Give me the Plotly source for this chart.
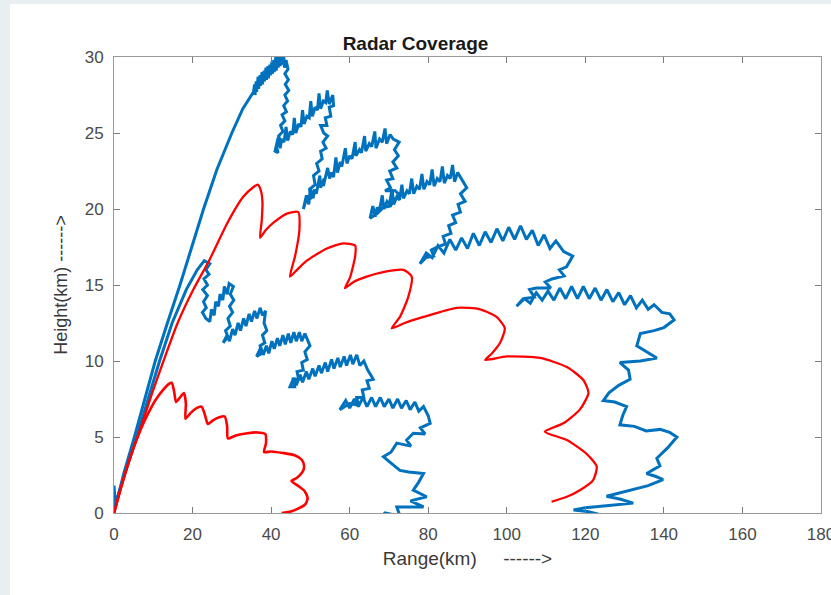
import plotly.graph_objects as go

# ---------------- data (km) ----------------
# outer blue (noisy) coverage contour: (range, height)
blue_outer = [
    (0, 0), (2.5, 2.6), (5.2, 5.0), (7.8, 7.5), (10.5, 10.0), (13.6, 12.5), (16.8, 15.0),
    (19.8, 17.5), (22.8, 20.0), (26.2, 22.6), (30.0, 25.0), (32.8, 26.6), (35.5, 27.7),
    (35.8, 28.2), (35.9, 27.5), (36.2, 28.4), (36.3, 27.7), (36.7, 28.7), (36.8, 27.9),
    (37.2, 28.8), (37.3, 28.1), (37.7, 29.0), (37.8, 28.2), (38.2, 29.1), (38.3, 28.4),
    (38.7, 29.3), (38.8, 28.5), (39.2, 29.4), (39.3, 28.6), (39.7, 29.5), (39.8, 28.8),
    (40.2, 29.7), (40.3, 28.9), (40.7, 29.8), (40.8, 29.0), (41.2, 30.0), (41.3, 29.1),
    (41.7, 30.1), (41.8, 29.3), (42.2, 30.2), (42.3, 29.4), (42.7, 30.2), (42.8, 29.5),
    (43.2, 30.1), (43.4, 29.3), (43.8, 29.8),
    (44.3, 29.2), (43.5, 28.9), (44.4, 28.5), (43.6, 28.2), (44.5, 27.8), (43.5, 27.5),
    (44.2, 27.1), (43.2, 26.8), (43.9, 26.4), (42.8, 26.2), (43.5, 25.8), (42.4, 25.5),
    (43.0, 25.1), (41.9, 24.8), (42.5, 24.4), (41.3, 24.1), (41.8, 23.7), (41.0, 23.8),
    (41.8, 24.7), (42.3, 24.0), (42.7, 24.6), (43.3, 24.4), (43.8, 25.4), (44.2, 24.5),
    (44.9, 25.1), (45.5, 24.9), (45.9, 26.0), (46.3, 25.0), (47.0, 25.6), (47.6, 25.4),
    (48.0, 26.5), (48.4, 25.6), (49.1, 26.1), (49.7, 26.0), (50.1, 27.1), (50.5, 26.1),
    (51.2, 26.7), (51.8, 26.5), (52.2, 27.6), (52.6, 26.6), (53.3, 27.1), (53.9, 27.0),
    (54.3, 27.8), (54.8, 26.9), (55.7, 27.5),
    (55.9, 26.8), (54.8, 26.7), (55.2, 26.1), (53.8, 26.0), (54.2, 25.5), (52.6, 25.5),
    (53.4, 25.0), (54.4, 24.8), (53.2, 24.4), (54.0, 24.0), (52.6, 23.8), (53.0, 23.3),
    (51.6, 23.0), (52.2, 22.5), (50.8, 22.2), (51.2, 21.6), (49.8, 21.3), (50.0, 20.7),
    (48.8, 20.5), (48.2, 20.0),
    (49.0, 20.9), (49.6, 20.3), (50.0, 21.4), (50.7, 20.7), (51.1, 21.3), (51.5, 21.0),
    (52.4, 22.2), (52.6, 21.4), (53.5, 22.0), (53.3, 21.5), (54.4, 22.7), (54.9, 22.0),
    (55.3, 22.4), (55.9, 22.1), (56.5, 23.4), (56.9, 22.4), (57.6, 23.1), (58.0, 22.8),
    (58.9, 24.0), (59.3, 23.0), (60.0, 23.5), (60.6, 23.3), (61.4, 24.4), (61.6, 23.5),
    (62.5, 23.9), (63.0, 23.7), (63.8, 24.8), (64.1, 23.8), (65.0, 24.3), (65.6, 24.1),
    (66.4, 25.1), (66.7, 24.0), (67.6, 24.6), (68.3, 24.4), (69.0, 25.3), (69.4, 24.3),
    (70.3, 24.9), (71.1, 24.6),
    (72.6, 24.4), (71.4, 23.9), (72.4, 23.5), (71.0, 23.1), (72.0, 22.7), (70.2, 22.5),
    (71.0, 22.0), (69.4, 21.9), (70.4, 21.4), (69.0, 21.2), (71.6, 21.2), (72.8, 20.9),
    (71.2, 20.6), (70.4, 20.2), (68.6, 20.1), (67.0, 19.7), (65.2, 19.4),
    (65.9, 20.2), (66.5, 19.5), (67.0, 20.1), (67.6, 19.9), (68.3, 20.9), (68.7, 20.0),
    (69.5, 20.5), (70.1, 20.3), (70.8, 21.3), (71.2, 20.3), (72.0, 20.8), (72.7, 20.6),
    (73.3, 21.6), (73.7, 20.7), (74.6, 21.2), (75.2, 21.0), (75.8, 22.0), (76.3, 21.0),
    (77.1, 21.5), (77.8, 21.3), (78.4, 22.3), (78.9, 21.3), (79.7, 21.8), (80.4, 21.6),
    (81.0, 22.6), (81.5, 21.5), (82.3, 22.0), (83.0, 21.8), (83.6, 22.8), (84.1, 21.7),
    (84.9, 22.2), (85.6, 22.0), (86.2, 22.9), (86.7, 21.8), (87.5, 22.4), (88.4, 22.0),
    (89.8, 21.4), (88.2, 21.0), (89.4, 20.5), (87.6, 20.3), (88.2, 19.8), (86.2, 19.6),
    (87.0, 19.1), (85.2, 18.9), (85.8, 18.4), (83.8, 18.2), (84.4, 17.7), (82.4, 17.5),
    (80.8, 17.3), (81.4, 16.9), (79.4, 16.8), (77.9, 16.4),
    (79.5, 17.1), (81.0, 16.8), (82.5, 17.6), (84.0, 17.1), (85.5, 18.0), (87.0, 17.3),
    (88.5, 18.1), (90.0, 17.4), (91.5, 18.4), (93.0, 17.6), (94.5, 18.5), (96.0, 17.8),
    (97.5, 18.7), (99.0, 17.9), (100.5, 18.8), (102.0, 18.0), (103.5, 18.9), (105.0, 18.0),
    (106.5, 18.6), (108.0, 17.6), (109.5, 18.3), (111.0, 17.4), (112.5, 17.9), (114.5, 17.2),
    (116.8, 16.9),
    (115.2, 16.2), (113.4, 16.0), (114.6, 15.6), (111.5, 15.4), (109.8, 15.2), (111.2, 14.8),
    (107.5, 14.8), (105.8, 14.7), (107.0, 14.2), (104.2, 14.1), (102.5, 13.6),
    (104.5, 14.1), (106.0, 13.8), (107.5, 14.5), (109.0, 14.0), (110.5, 14.6), (112.0, 14.0),
    (113.5, 14.8), (115.0, 14.1), (116.5, 14.9), (118.0, 14.1), (119.5, 14.9), (121.0, 14.1),
    (122.5, 14.8), (124.0, 14.0), (125.5, 14.7), (127.0, 13.9), (128.5, 14.5), (130.0, 13.7),
    (131.5, 14.3), (133.0, 13.5), (134.5, 14.0), (136.0, 13.4), (137.5, 13.7), (139.5, 13.2),
    (141.5, 13.1), (142.6, 12.7),
    (140.0, 12.2), (137.5, 12.0), (134.0, 11.8), (133.1, 11.0), (135.5, 10.6), (138.2, 10.2),
    (134.0, 10.0), (128.8, 9.9), (131.0, 9.4), (131.4, 8.8), (128.5, 8.4), (126.0, 7.9),
    (124.6, 7.4), (127.5, 7.3), (130.5, 7.0), (129.5, 6.4), (128.8, 5.8), (132.5, 5.7),
    (135.5, 5.4), (139.0, 5.5), (141.5, 5.3), (143.3, 5.0), (141.0, 4.3), (138.2, 3.6),
    (139.0, 3.1), (135.6, 2.6), (138.0, 2.4), (139.8, 2.2), (136.0, 1.8), (131.5, 1.5),
    (127.5, 1.2), (125.4, 1.1), (129.0, 0.9), (132.2, 0.65), (126.0, 0.5), (120.0, 0.35),
    (117.0, 0.2), (120.5, 0.1), (123.7, -0.1),
]

# inner blue (noisy) coverage contour
blue_inner = [
    (0, 0), (0, 1.8), (0.3, 0.6), (2.8, 2.6), (5.8, 5.0), (8.7, 7.5), (11.6, 10.0),
    (14.8, 12.5), (18.4, 14.7), (21.2, 16.0), (23.0, 16.6), (24.4, 16.4),
    (23.4, 16.0), (24.2, 15.7), (22.9, 15.4), (23.8, 15.0), (22.6, 14.7), (23.8, 14.3),
    (22.8, 13.9), (23.5, 13.5), (22.5, 13.2), (23.4, 12.8), (24.4, 12.6), (24.8, 13.4),
    (25.5, 13.0), (25.9, 13.9), (26.6, 13.6), (27.0, 14.4), (27.7, 14.0), (28.1, 14.9),
    (28.8, 14.4), (29.3, 15.1), (30.4, 14.9), (29.6, 14.4), (30.5, 14.0), (29.4, 13.6),
    (30.2, 13.2), (29.0, 12.8), (29.6, 12.3), (28.4, 12.0), (29.0, 11.6), (27.8, 11.2),
    (28.8, 11.7), (29.4, 11.3), (30.2, 12.1), (30.8, 11.7), (31.6, 12.5), (32.2, 12.0),
    (33.0, 12.8), (33.6, 12.3), (34.4, 13.1), (35.0, 12.6), (35.8, 13.3), (36.4, 12.8),
    (37.2, 13.5), (37.8, 13.0), (38.6, 13.3), (38.2, 12.5), (38.9, 12.0), (37.8, 11.7),
    (38.4, 11.2), (37.2, 11.0), (37.6, 10.5), (36.3, 10.3), (37.4, 10.9), (38.0, 10.4),
    (38.8, 11.0), (39.4, 10.5), (40.2, 11.3), (40.8, 10.8), (41.6, 11.5), (42.2, 11.0),
    (43.0, 11.7), (43.6, 11.1), (44.4, 11.8), (45.0, 11.2), (45.8, 11.9), (46.4, 11.3),
    (47.2, 11.9), (47.8, 11.3), (48.6, 11.8), (49.9, 11.0), (48.6, 10.6), (49.2, 10.1),
    (47.8, 9.9), (48.2, 9.4), (46.6, 9.3), (47.0, 8.8), (45.6, 8.8), (46.0, 8.3),
    (44.8, 8.3),
    (45.8, 8.9), (46.4, 8.4), (47.4, 9.1), (48.0, 8.6), (49.0, 9.3), (49.6, 8.8),
    (50.6, 9.5), (51.2, 9.0), (52.2, 9.7), (52.8, 9.2), (53.8, 9.9), (54.4, 9.3),
    (55.4, 10.1), (56.0, 9.5), (57.0, 10.2), (57.6, 9.6), (58.6, 10.3), (59.2, 9.7),
    (60.2, 10.4), (60.8, 9.8), (61.8, 10.4), (62.6, 9.7), (63.6, 10.0), (64.6, 9.4),
    (66.0, 8.8), (64.4, 8.7), (65.0, 8.2), (63.2, 8.1), (63.6, 7.6), (61.8, 7.6),
    (62.2, 7.1), (60.0, 7.2), (57.5, 6.8),
    (59.0, 7.4), (60.0, 6.9), (61.2, 7.5), (62.2, 7.0), (63.4, 7.6), (64.4, 7.0),
    (65.6, 7.6), (66.6, 7.0), (67.8, 7.6), (68.8, 7.0), (70.0, 7.5), (71.0, 6.9),
    (72.2, 7.5), (73.2, 6.9), (74.4, 7.4), (75.4, 6.8), (76.6, 7.3), (77.6, 6.7),
    (78.8, 7.0), (80.0, 6.4), (80.5, 5.9),
    (78.0, 5.6), (79.2, 5.2), (76.2, 5.25), (74.5, 4.8), (75.6, 4.4), (72.0, 4.6),
    (70.5, 4.0), (68.6, 3.7), (70.0, 3.4), (72.8, 2.8), (75.0, 2.7), (78.8, 2.6),
    (77.5, 2.0), (76.2, 1.5), (79.6, 1.07), (75.5, 0.8), (78.8, 0.4), (72.0, 0.4),
    (72.8, -0.2), (69.0, 0.0), (67.0, -0.5),
]

# outer red (smooth) coverage contour
red_outer = [
    (0, 0), (1.5, 1.4), (3.2, 2.9), (5.0, 4.3), (6.8, 5.6), (9.6, 7.8), (12.6, 10.0),
    (16.2, 12.5), (20.2, 14.7), (24.4, 16.7), (28.7, 19.0), (32.9, 20.8), (35.3, 21.4),
    (36.6, 21.6), (37.4, 21.2), (37.8, 20.4), (37.6, 19.2), (37.2, 18.1),
    (38.6, 18.6), (40.6, 19.1), (44.0, 19.7), (46.9, 19.8), (47.2, 18.6), (46.1, 16.9),
    (44.8, 15.55),
    (46.6, 16.0), (49.1, 16.6), (54.2, 17.4), (58.4, 17.74), (61.4, 17.6), (61.4, 16.9),
    (60.1, 15.5), (58.8, 14.8),
    (61.0, 15.2), (64.3, 15.55), (69.4, 15.9), (73.7, 16.0), (75.8, 15.55), (74.9, 14.2),
    (72.8, 12.9), (70.7, 12.15),
    (74.0, 12.5), (78.8, 12.9), (87.3, 13.5), (93.2, 13.4), (97.4, 12.9), (99.5, 12.15),
    (98.3, 11.2), (96.2, 10.5), (94.5, 10.07),
    (100.0, 10.3), (108.5, 10.2), (115.3, 9.6), (119.5, 8.75), (120.8, 7.9), (118.6, 6.8),
    (114.4, 5.9), (109.7, 5.35),
    (115.3, 4.8), (120.3, 3.9), (122.9, 3.05), (122.0, 2.17), (118.6, 1.5), (115.3, 1.07),
    (111.4, 0.74),
]

# inner red (smooth) coverage contour
red_inner = [
    (0, 0), (1.5, 1.4), (3.2, 2.9), (5.0, 4.3), (6.8, 5.5), (8.6, 6.5), (10.5, 7.4),
    (12.5, 8.1), (14.0, 8.5), (14.7, 8.57), (15.3, 8.0), (15.8, 7.3),
    (16.8, 7.6), (17.8, 7.9), (18.3, 7.2), (18.2, 6.2),
    (19.6, 6.6), (21.0, 6.9), (22.3, 7.0), (23.1, 6.5), (23.9, 5.85),
    (25.2, 6.1), (26.8, 6.3), (28.2, 6.35), (28.8, 5.7), (29.0, 4.9),
    (31.0, 5.1), (34.0, 5.25), (36.5, 5.3), (38.5, 5.2), (38.7, 4.6), (38.2, 4.0),
    (40.0, 4.05), (43.0, 3.95), (46.0, 3.8), (47.8, 3.5), (48.4, 3.1), (48.0, 2.7),
    (46.5, 2.3), (45.2, 2.1),
    (46.8, 1.8), (48.5, 1.45), (49.3, 1.0), (48.8, 0.6), (47.0, 0.3), (45.0, 0.1), (42.7, 0.0),
]

x_ticks = [0, 20, 40, 60, 80, 100, 120, 140, 160, 180]
y_ticks = [0, 5, 10, 15, 20, 25, 30]

BLUE = "#0072BD"
RED = "#FF0000"
FONT = "Liberation Sans, Arial, sans-serif"

fig = go.Figure()
for series, color, w, shape in [(blue_outer, BLUE, 3.0, "linear"), (blue_inner, BLUE, 3.0, "linear"),
                                (red_outer, RED, 2.3, "spline"), (red_inner, RED, 2.6, "spline")]:
    xs = [p[0] for p in series]
    ys = [p[1] for p in series]
    fig.add_trace(go.Scatter(x=xs, y=ys, mode="lines",
                             line=dict(color=color, width=w, shape=shape, smoothing=0.6),
                             showlegend=False, hoverinfo="skip"))

NB = "\u00a0"
axis_common = dict(showline=True, linecolor="#9a9a9a", linewidth=1, mirror="ticks",
                   ticks="inside", ticklen=6, tickcolor="#7a7a7a", showgrid=False,
                   zeroline=False, automargin=False,
                   tickfont=dict(family=FONT, size=17, color="#4a4a4a"))

fig.update_layout(
    width=831, height=595,
    margin=dict(l=114, r=10, t=57, b=82, autoexpand=False),
    paper_bgcolor="#e9eef1",
    plot_bgcolor="white",
    title=dict(text="<b>Radar Coverage</b>", x=0.5, xanchor="center",
               y=1 - 43 / 595, yanchor="middle",
               font=dict(family=FONT, size=19, color="#1a1a1a")),
    xaxis=dict(range=[0, 180], tickvals=x_ticks, ticktext=[str(v) for v in x_ticks],
               ticklabelstandoff=6, ticklabeloverflow="allow",
               title=dict(text="Range(km)" + NB * 5 + "------>", standoff=8,
                          font=dict(family=FONT, size=19, color="#3a3a3a")),
               **axis_common),
    yaxis=dict(range=[0, 30], tickvals=y_ticks, ticktext=[str(v) for v in y_ticks],
               ticklabelstandoff=6,
               title=dict(text=NB * 7 + "Height(km)" + NB + "------>", standoff=12,
                          font=dict(family=FONT, size=18, color="#3a3a3a")),
               **axis_common),
    shapes=[dict(type="rect", xref="paper", yref="paper", layer="below",
                 x0=(10 - 114) / 707, x1=1.1, y0=-0.3, y1=(513 - 4) / 456,
                 fillcolor="white", line=dict(width=0))],
)

fig.write_html("out.html")
